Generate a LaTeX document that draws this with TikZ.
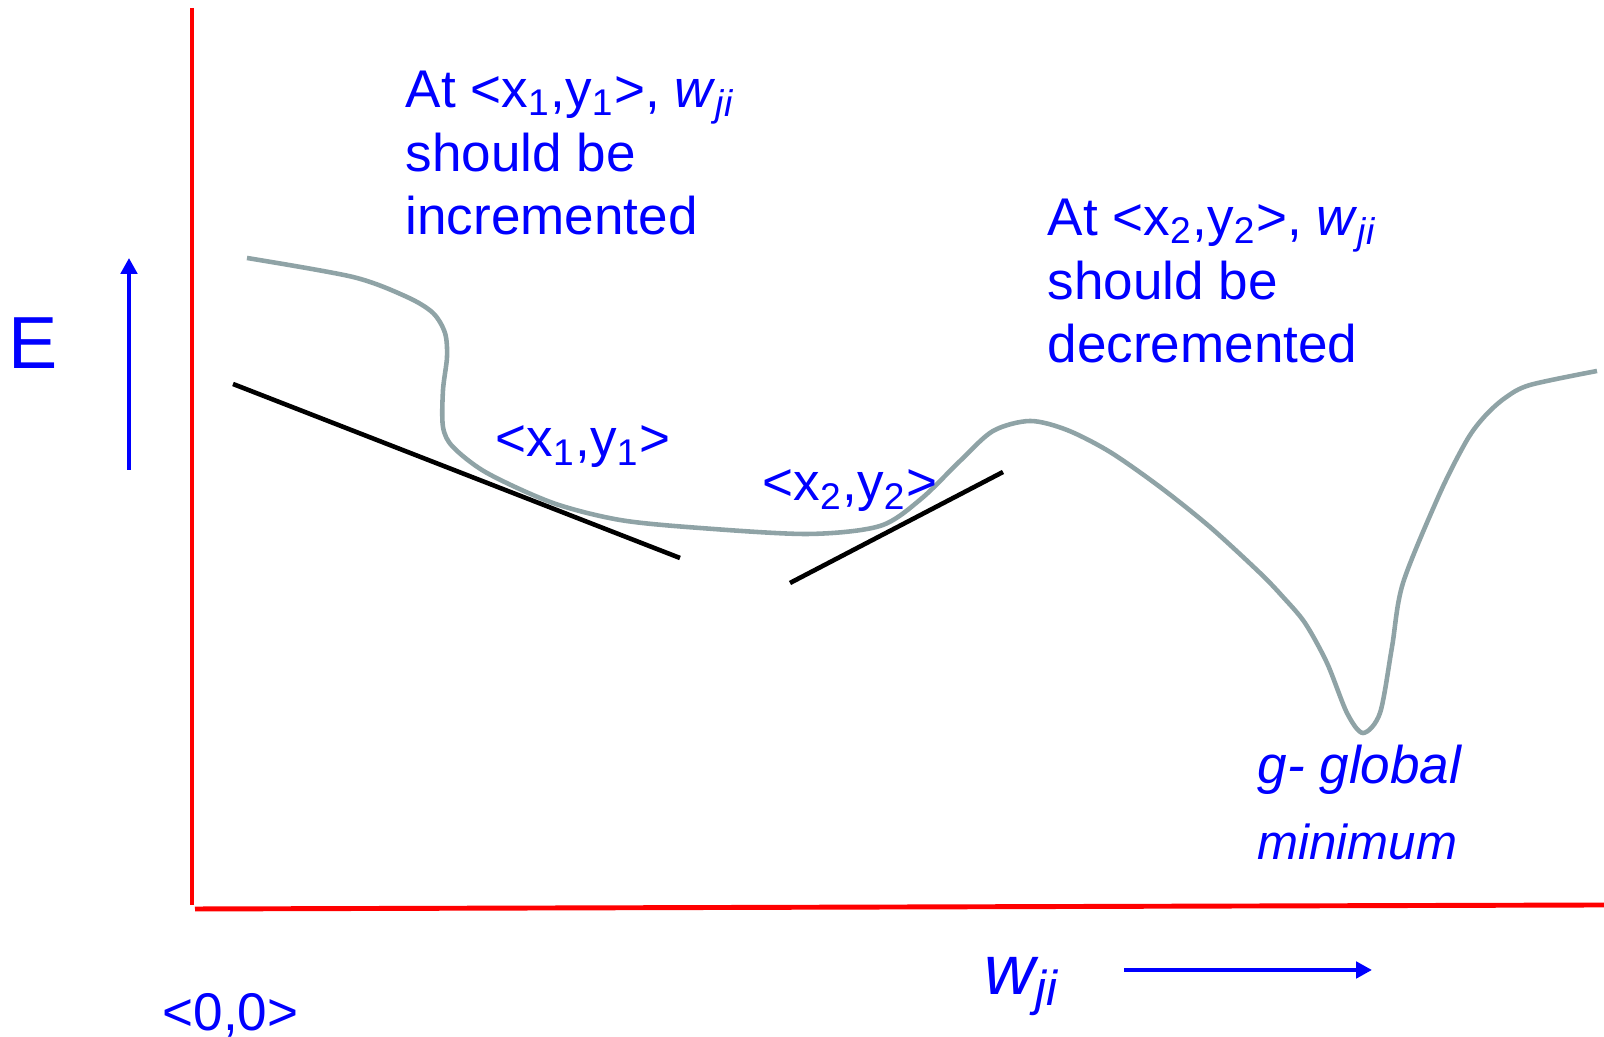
\documentclass[tikz,border=0pt]{standalone}
\usepackage{fontspec}
\setmainfont{Liberation Sans}
\usetikzlibrary{arrows.meta}
\definecolor{axisred}{HTML}{FF0000}
\definecolor{lblblue}{HTML}{0000FF}
\definecolor{curvegray}{HTML}{8FA3A6}

\begin{document}
\begin{tikzpicture}[
    lbl/.style={text=lblblue, inner sep=0pt, anchor=base west,
                font=\fontsize{15.1}{18.2}\selectfont},
    axis/.style={axisred, line width=1.4pt},
    tangent/.style={black, line width=1.3pt},
    errcurve/.style={curvegray, line width=1.3pt},
    dirarr/.style={-{Triangle[length=4.5pt, width=4.6pt]}, lblblue,
                   line width=1.4pt}
  ]
    \useasboundingbox (0,0) rectangle (16.04,10.37);

    % axes
    \draw[axis] (1.92,10.29) -- (1.92,1.32);
    \draw[axis] (1.95,1.28) -- (16.04,1.32);

    % error surface
    \draw[errcurve] plot[smooth, tension=0.5] coordinates {
      (2.47,7.79) (3.53,7.60) (4.07,7.40) (4.33,7.24) (4.45,7.04)
      (4.47,6.80) (4.43,6.47) (4.43,6.10) (4.53,5.90) (4.87,5.64)
      (5.53,5.34) (6.20,5.17) (7.00,5.09) (8.08,5.03) (8.80,5.11)
      (9.21,5.38) (9.60,5.76) (9.93,6.06) (10.30,6.16) (10.67,6.07)
      (11.10,5.85) (11.60,5.50) (12.10,5.10) (12.60,4.64) (12.83,4.40)
      (13.05,4.14) (13.27,3.74) (13.47,3.24) (13.63,3.04) (13.80,3.24)
      (13.92,3.90) (14.03,4.54) (14.40,5.44) (14.67,5.97) (14.85,6.21)
      (15.05,6.39) (15.30,6.52) (15.97,6.66)};

    % tangents
    \coordinate (t1a) at (2.33,6.53);
    \coordinate (t1b) at (6.80,4.79);
    \coordinate (t2a) at (7.90,4.54);
    \coordinate (t2b) at (10.03,5.65);
    \draw[tangent] (t1a) -- (t1b);
    \draw[tangent] (t2a) -- (t2b);

    % direction arrows
    \coordinate (eup0) at (1.29,5.67);
    \coordinate (eup1) at (1.29,7.79);
    \coordinate (wrt0) at (11.24,0.67);
    \coordinate (wrt1) at (13.72,0.67);
    \draw[dirarr] (eup0) -- (eup1);
    \draw[dirarr] (wrt0) -- (wrt1);

    % labels
    \node[lbl, font=\fontsize{21}{24}\selectfont] (elbl) at (0.08,6.68) {E};
    \node[lbl, font=\fontsize{20}{22}\selectfont\itshape] (wlbl) at (9.84,0.42)
      {w\textsubscript{ji}};
    \node[lbl] (origin) at (1.62,0.06) {<0,0>};
    \node[lbl] (p1) at (4.95,5.80) {<x\textsubscript{1},y\textsubscript{1}>};
    \node[lbl] (p2) at (7.62,5.36) {<x\textsubscript{2},y\textsubscript{2}>};
    \node[lbl, align=left] (incnote) at (4.05,8.02)
      {At <x\textsubscript{1},y\textsubscript{1}>, \textit{w}\textsubscript{\itshape ji}\\
       should be\\ incremented};
    \node[lbl, align=left] (decnote) at (10.47,6.74)
      {At <x\textsubscript{2},y\textsubscript{2}>, \textit{w}\textsubscript{\itshape ji}\\
       should be\\ decremented};
    \node[lbl, font=\fontsize{15.1}{21.9}\selectfont\itshape, align=left] (gmin)
      at (12.57,1.77) {g- global\\ \fontsize{14}{21.9}\selectfont minimum};
  \end{tikzpicture}
\end{document}
